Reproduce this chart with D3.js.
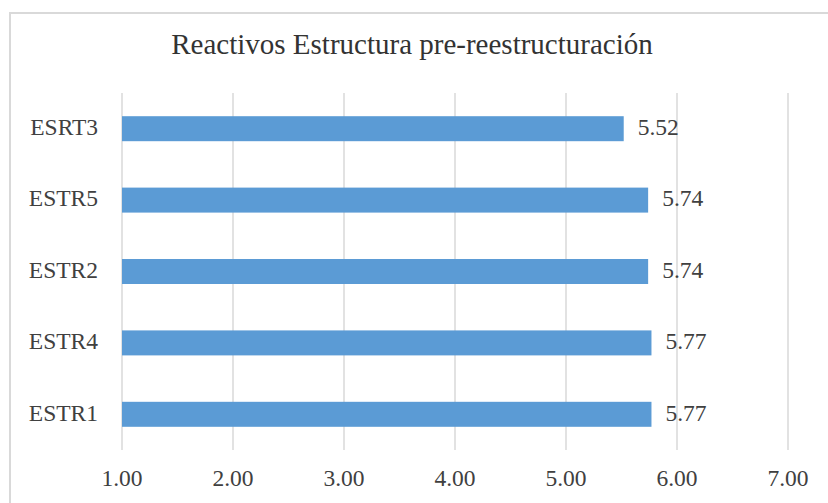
<!DOCTYPE html>
<html>
<head>
<meta charset="utf-8">
<script src="https://cdn.jsdelivr.net/npm/d3@7"></script>
<style>
  html, body { margin: 0; padding: 0; background: #ffffff; }
  svg { display: block; }
  text { font-family: "Liberation Serif", "Times New Roman", serif; }
</style>
</head>
<body>
<svg id="chart" width="828" height="503"></svg>
<script>
// Item means for the structure block, top to bottom
const categories = ["ESRT3", "ESTR5", "ESTR2", "ESTR4", "ESTR1"];
const values = [5.52, 5.74, 5.74, 5.77, 5.77];
const tickValues = [1, 2, 3, 4, 5, 6, 7];
const titleText = "Reactivos Estructura pre-reestructuración";

const svg = d3.select("#chart");
const W = 828, H = 503;
const plot = { left: 122, right: 788, top: 93, bottom: 450 };
const textColor = "#404040";
const gridColor = "#d9d9d9";
const barColor = "#5b9bd5";

// chart frame
svg.append("rect")
  .attr("x", 10).attr("y", 13)
  .attr("width", W + 10).attr("height", H + 10)
  .attr("fill", "#ffffff")
  .attr("stroke", "#d9d9d9").attr("stroke-width", 2);

const x = d3.scaleLinear().domain([1, 7]).range([plot.left, plot.right]);
const y = d3.scaleBand().domain(categories)
  .range([plot.top, plot.bottom])
  .paddingInner(0.65).paddingOuter(0.325);

function label(g, tx, ty, str, size, anchor, color) {
  return g.append("text")
    .attr("x", tx).attr("y", ty)
    .attr("text-anchor", anchor)
    .attr("dominant-baseline", "middle")
    .attr("font-size", size)
    .attr("fill", color)
    .text(str);
}

// vertical gridlines
svg.append("g")
  .selectAll("line")
  .data(tickValues)
  .join("line")
  .attr("x1", d => x(d)).attr("x2", d => x(d))
  .attr("y1", plot.top).attr("y2", plot.bottom)
  .attr("stroke", gridColor).attr("stroke-width", 1.5);

// bars
svg.append("g")
  .selectAll("rect")
  .data(values)
  .join("rect")
  .attr("x", x(1))
  .attr("y", (d, i) => y(categories[i]))
  .attr("width", d => x(d) - x(1))
  .attr("height", y.bandwidth())
  .attr("fill", barColor);

// value labels
const vg = svg.append("g");
values.forEach((v, i) => {
  label(vg, x(v) + 14, y(categories[i]) + y.bandwidth() / 2 + 1, v.toFixed(2), 23.5, "start", textColor);
});

// category labels
const cg = svg.append("g");
categories.forEach(c => {
  label(cg, 98, y(c) + y.bandwidth() / 2 + 1, c, 23.5, "end", textColor);
});

// x tick labels
const tg = svg.append("g");
tickValues.forEach(t => {
  label(tg, x(t), 481, t.toFixed(2), 23.5, "middle", textColor);
});

// title
label(svg, 412, 47, titleText, 29, "middle", "#333333");
</script>
</body>
</html>
